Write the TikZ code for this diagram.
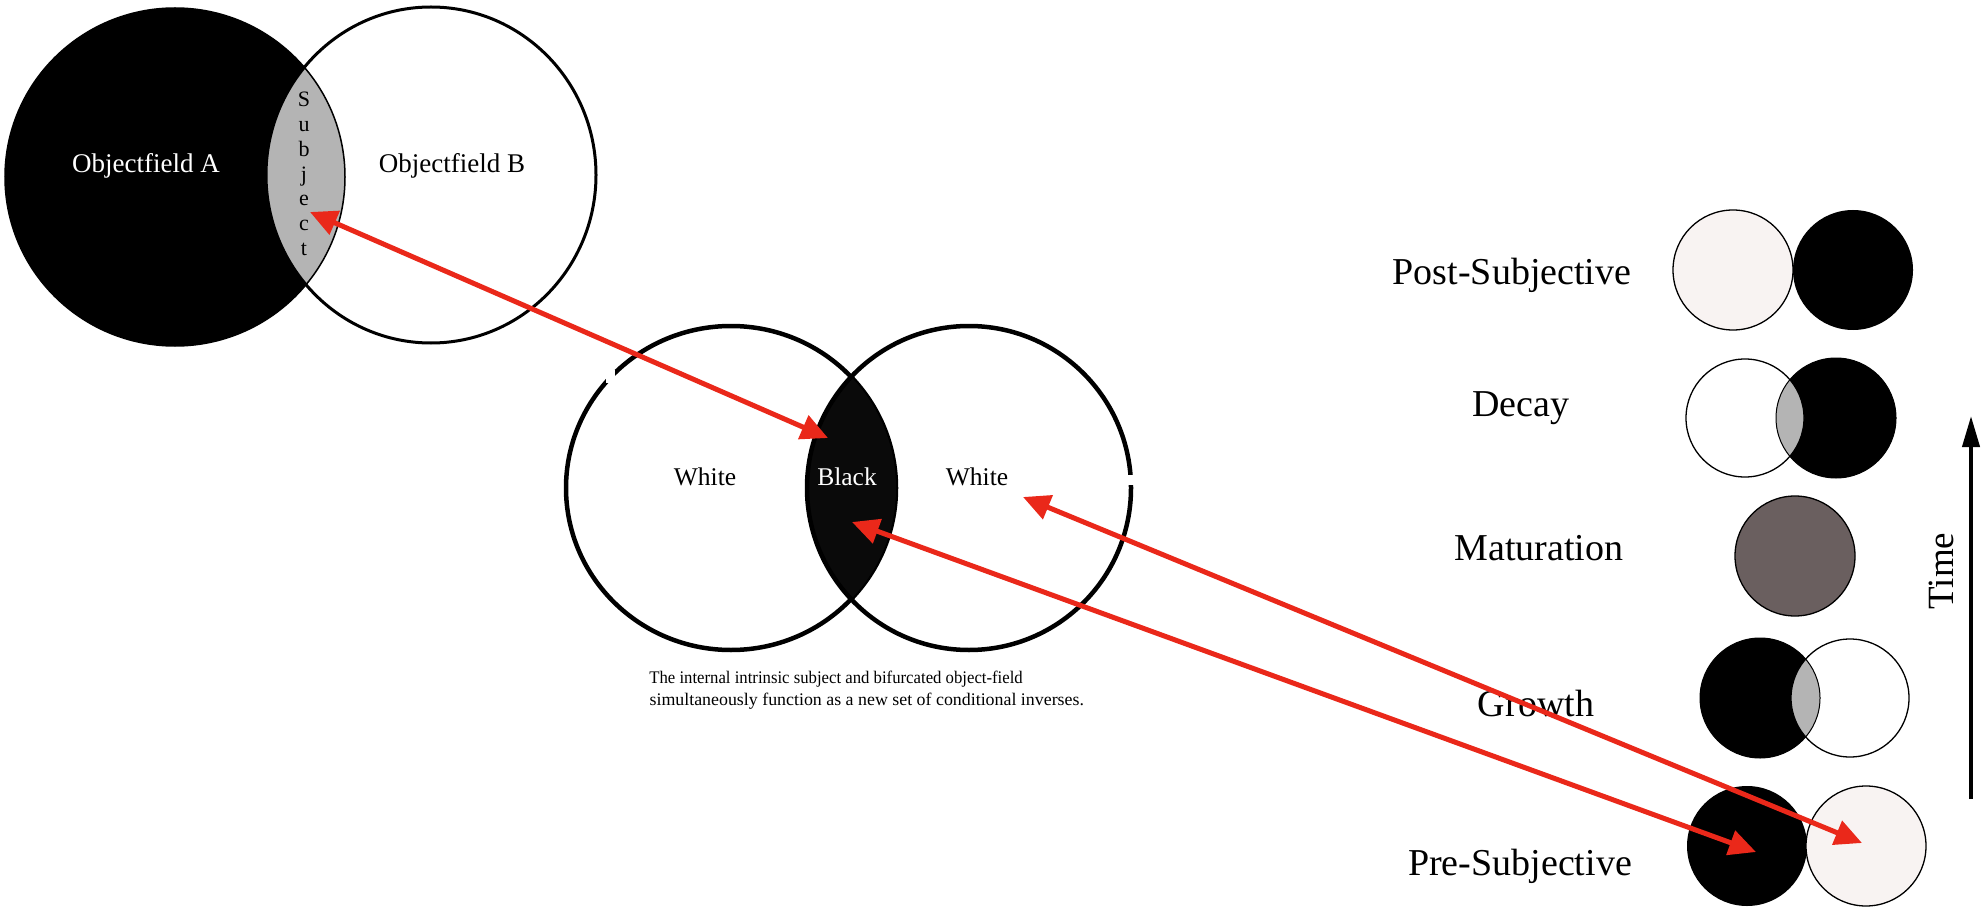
\documentclass[tikz,border=0pt]{standalone}
\usepackage{fontspec}
\setmainfont{Liberation Serif}
\usetikzlibrary{arrows.meta}

\definecolor{lensgray}{RGB}{180,180,180}
\definecolor{paleshade}{RGB}{248,243,242}
\definecolor{taupe}{RGB}{106,95,95}
\definecolor{arrowred}{RGB}{234,40,26}

\begin{document}
\begin{tikzpicture}[x=1pt,y=-1pt,
  biglabel/.style={font=\fontsize{27}{30}\selectfont, anchor=base},
  midlabel/.style={font=\fontsize{25.5}{28}\selectfont, anchor=base},
  stagelabel/.style={font=\fontsize{38}{42}\selectfont, anchor=base},
  letter/.style={font=\fontsize{22}{24}\selectfont, anchor=base},
  caption/.style={font=\fontsize{17.7}{21}\selectfont, anchor=base west},
  bigring/.style={draw=black, line width=3pt},
  midring/.style={draw=black, line width=4.5pt},
  smallring/.style={draw=black, line width=1.3pt},
  redarrow/.style={draw=arrowred, line width=5pt,
    {Triangle[length=27pt,width=25pt]}-{Triangle[length=27pt,width=25pt]}},
  timearrow/.style={draw=black, line width=4pt, -{Triangle[length=31pt,width=17pt]}}
]
\useasboundingbox (0,0) rectangle (1986,909);
\fill[white] (0,0) rectangle (1986,909);

% ---------- Objectfield A / Objectfield B ----------
\fill[black] (175,177) ellipse [x radius=170, y radius=169];
\begin{scope}
  \clip (175,177) ellipse [x radius=170, y radius=169];
  \fill[lensgray] (431,175) ellipse [x radius=165, y radius=168];
\end{scope}
\draw[line width=1.5pt] (175,177) ellipse [x radius=170, y radius=169];
\draw[bigring] (431,175) ellipse [x radius=165, y radius=168];

\node[biglabel, text=white] (objA) at (146,173) {Objectfield A};
\node[biglabel] (objB) at (452,173) {Objectfield B};
\foreach \ch [count=\i from 0] in {S,u,b,j,e,c,t}
  \node[letter] (subj\i) at (304,{107+24.7*\i}) {\ch};

% ---------- White / Black / White ----------
\draw[midring] (731,488) ellipse [x radius=165, y radius=162];
\begin{scope}
  \clip (731,488) ellipse [x radius=165, y radius=162];
  \fill[black!96] (969,488) ellipse [x radius=162, y radius=162];
\end{scope}
\draw[midring] (969,488) ellipse [x radius=162, y radius=162];
\fill[white] (606,370) rectangle (615,383);
\fill[white] (1128,475) rectangle (1137,485);

\node[midlabel] (wL) at (705,485) {White};
\node[midlabel, text=white] (blk) at (847,485) {Black};
\node[midlabel] (wR) at (977,485) {White};

\node[caption, xscale=0.945] (cap1) at (646,683) {The internal intrinsic subject and bifurcated object-field};
\node[caption, xscale=1.01] (cap2) at (646,705) {simultaneously function as a new set of conditional inverses.};

% ---------- stages ----------
% Post-Subjective
\fill[paleshade] (1733,270) circle [radius=60];
\draw[smallring] (1733,270) circle [radius=60];
\fill[black] (1853,270) circle [radius=60];
\node[stagelabel] (post) at (1512,284) {Post-Subjective};

% Decay
\fill[white] (1745,418) circle [radius=59];
\fill[black] (1836,418) circle [radius=60];
\begin{scope}
  \clip (1745,418) circle [radius=59];
  \fill[lensgray] (1836,418) circle [radius=60];
\end{scope}
\draw[smallring] (1745,418) circle [radius=59];
\draw[line width=1pt] (1836,418) circle [radius=60];
\node[stagelabel] (decay) at (1521,416) {Decay};

% Maturation
\fill[taupe] (1795,556) circle [radius=60];
\draw[smallring] (1795,556) circle [radius=60];
\node[stagelabel] (matur) at (1539,560) {Maturation};

% Growth
\fill[black] (1760,698) circle [radius=60];
\begin{scope}
  \clip (1760,698) circle [radius=60];
  \fill[lensgray] (1850,698) circle [radius=59];
\end{scope}
\draw[line width=1pt] (1760,698) circle [radius=60];
\draw[smallring] (1850,698) circle [radius=59];
\node[stagelabel] (growth) at (1536,716) {Growth};

% Pre-Subjective
\fill[black] (1747,846) circle [radius=60];
\fill[paleshade] (1866,846) circle [radius=60];
\draw[smallring] (1866,846) circle [radius=60];
\node[stagelabel] (pre) at (1520,875) {Pre-Subjective};

% Time axis
\coordinate (tBot) at (1971,799);
\coordinate (tTop) at (1971,416);
\draw[timearrow] (tBot) -- (tTop);
\node[font=\fontsize{37}{40}\selectfont, rotate=90] (time) at (1941,571) {Time};

% ---------- links ----------
\coordinate (subjTip) at (310,212);
\coordinate (blackTop) at (828,438);
\coordinate (blackLow) at (852,522);
\coordinate (whiteTip) at (1023,497);
\coordinate (preBlack) at (1756,852);
\coordinate (prePale) at (1862,843);
\draw[redarrow] (subjTip) -- (blackTop);
\draw[redarrow] (blackLow) -- (preBlack);
\draw[redarrow] (whiteTip) -- (prePale);
\end{tikzpicture}
\end{document}
